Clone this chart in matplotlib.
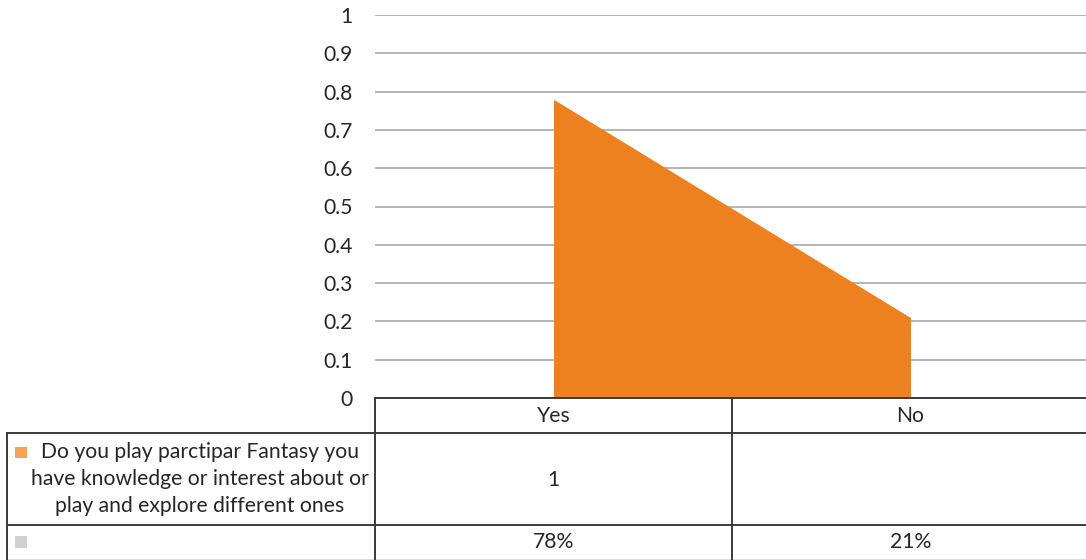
import matplotlib
matplotlib.use("Agg")
import matplotlib.pyplot as plt
import numpy as np

# ---- data ----
categories = ["Yes", "No"]
area_values = [0.78, 0.21]
series_label = "Do you play parctipar Fantasy you\nhave knowledge or interest about or\nplay and explore different ones"
row1_values = ["1", ""]
row2_values = ["78%", "21%"]
y_ticks = [0, 0.1, 0.2, 0.3, 0.4, 0.5, 0.6, 0.7, 0.8, 0.9, 1]
y_ticklabels = ["0", "0.1", "0.2", "0.3", "0.4", "0.5", "0.6", "0.7", "0.8", "0.9", "1"]

plt.rcParams['font.family'] = ['Lato', 'DejaVu Sans']
FS = 15.2
TXT = '#262626'
ORANGE = '#EE811F'
W, H = 1086, 560
fig = plt.figure(figsize=(W / 100, H / 100), dpi=100)

# layout in pixels
plot_left, plot_top, plot_bottom = 375, 15, 398
band = 357
plot_right = plot_left + band * len(categories)

ax = fig.add_axes([plot_left / W, 1 - plot_bottom / H,
                   (plot_right - plot_left) / W, (plot_bottom - plot_top) / H])
x = np.arange(len(categories))
ax.fill_between(x, 0, area_values, color=ORANGE, linewidth=0, zorder=2)
ax.set_xlim(-0.5, len(categories) - 0.5)
ax.set_ylim(0, 1)
ax.set_yticks(y_ticks)
ax.set_yticklabels(y_ticklabels, fontsize=FS, color=TXT)
ax.tick_params(axis='y', length=0, pad=16)
ax.set_xticks([])
ax.grid(axis='y', color='#B4B4B4', linewidth=1.4, zorder=1)
for s in ax.spines.values():
    s.set_visible(False)
ax.set_axisbelow(True)

# table overlay in pixel coordinates
tax = fig.add_axes([0, 0, 1, 1])
tax.set_xlim(0, W)
tax.set_ylim(H, 0)
tax.axis('off')
lc = '#3A3A3A'
lw = 1.4
table_left = 7
header_bottom = 433
row1_bottom = 525
row2_bottom = 562
# horizontal lines
tax.plot([plot_left, plot_right], [plot_bottom, plot_bottom], color=lc, lw=lw)
tax.plot([table_left, plot_right], [header_bottom, header_bottom], color=lc, lw=lw)
tax.plot([table_left, plot_right], [row1_bottom, row1_bottom], color=lc, lw=lw)
tax.plot([table_left, plot_right], [row2_bottom - 2, row2_bottom - 2], color='#DDDDDD', lw=lw)
# vertical lines
tax.plot([table_left, table_left], [header_bottom, row2_bottom], color=lc, lw=lw)
for i in range(len(categories)):
    xb = plot_left + band * i
    tax.plot([xb, xb], [plot_bottom, row2_bottom], color=lc, lw=lw)

for i, c in enumerate(categories):
    xc = plot_left + band * (i + 0.5)
    tax.text(xc, (plot_bottom + header_bottom) / 2, c, ha='center', va='center', fontsize=FS, color=TXT)
    tax.text(xc, (header_bottom + row1_bottom) / 2 + 1, row1_values[i], ha='center', va='center', fontsize=FS, color=TXT)
    tax.text(xc, (row1_bottom + row2_bottom) / 2 - 1, row2_values[i], ha='center', va='center', fontsize=FS, color=TXT)

# row headers
tax.text(200, (header_bottom + row1_bottom) / 2, series_label, ha='center', va='center',
         fontsize=FS, color=TXT, linespacing=1.42, multialignment='center')
tax.add_patch(plt.Rectangle((15, 447), 12, 11, color='#F4A35C', lw=0))
tax.add_patch(plt.Rectangle((15, 536), 12, 12, color='#D0D0D0', lw=0))

fig.savefig('out.png', dpi=100)
